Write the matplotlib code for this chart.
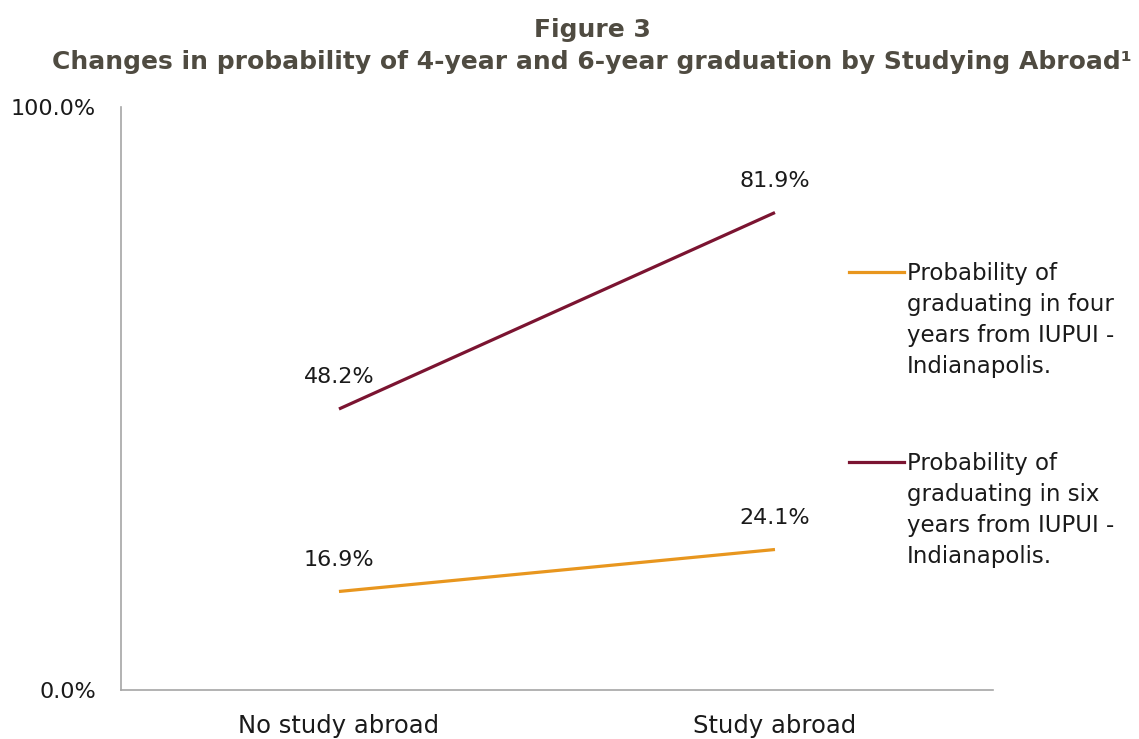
import matplotlib.pyplot as plt
from matplotlib.lines import Line2D
from matplotlib.ticker import FuncFormatter

plt.rcParams['font.family'] = ['DejaVu Sans']

categories = ['No study abroad', 'Study abroad']
four_year = [16.9, 24.1]
six_year = [48.2, 81.9]
four_year_label = 'Probability of\ngraduating in four\nyears from IUPUI -\nIndianapolis.'
six_year_label = 'Probability of\ngraduating in six\nyears from IUPUI -\nIndianapolis.'

orange = '#E8961E'
maroon = '#7B1431'
title_color = '#4F4B41'
text_color = '#1a1a1a'

fig = plt.figure(figsize=(11.39, 7.39), dpi=100)
ax = fig.add_axes([0.1062, 0.0663, 0.7656, 0.7889])

x = list(range(len(categories)))
ax.plot(x, four_year, color=orange, lw=2.3, solid_capstyle='butt')
ax.plot(x, six_year, color=maroon, lw=2.3, solid_capstyle='butt')

for series in (four_year, six_year):
    for xi, v in zip(x, series):
        ax.annotate(f'{v:.1f}%', (xi, v), xytext=(0, 23), textcoords='offset points',
                    ha='center', va='center', fontsize=16, color=text_color)

ax.set_xlim(-0.5, 1.5)
ax.set_ylim(0, 100)
ax.set_yticks([0, 100])
ax.yaxis.set_major_formatter(FuncFormatter(lambda v, p: f'{v:.1f}%'))
ax.set_xticks(x)
ax.set_xticklabels(categories, fontsize=17.5)
ax.tick_params(axis='both', length=0, colors=text_color)
ax.tick_params(axis='y', pad=18, labelsize=16)
ax.tick_params(axis='x', pad=17)
for side in ('top', 'right'):
    ax.spines[side].set_visible(False)
for side in ('left', 'bottom'):
    ax.spines[side].set_color('#A6A6A6')
    ax.spines[side].set_linewidth(1.2)

# legend drawn by hand so each handle sits on the first text line
W, H = 1139, 739
for y_px, color, label in [(272, orange, four_year_label), (462, maroon, six_year_label)]:
    fig.add_artist(Line2D([849 / W, 904 / W], [1 - y_px / H, 1 - y_px / H],
                          color=color, lw=2.3, transform=fig.transFigure))
    fig.text(907 / W, 1 - (y_px - 10) / H, label, ha='left', va='top',
             fontsize=16.5, color=text_color, linespacing=1.45)

fig.text(0.520, 1 - 30 / H, 'Figure 3', ha='center', va='center',
         fontsize=18, fontweight='bold', color=title_color)
fig.text(0.520, 1 - 62 / H, 'Changes in probability of 4-year and 6-year graduation by Studying Abroad¹',
         ha='center', va='center', fontsize=18, fontweight='bold', color=title_color)

fig.savefig('out.png', dpi=100)
